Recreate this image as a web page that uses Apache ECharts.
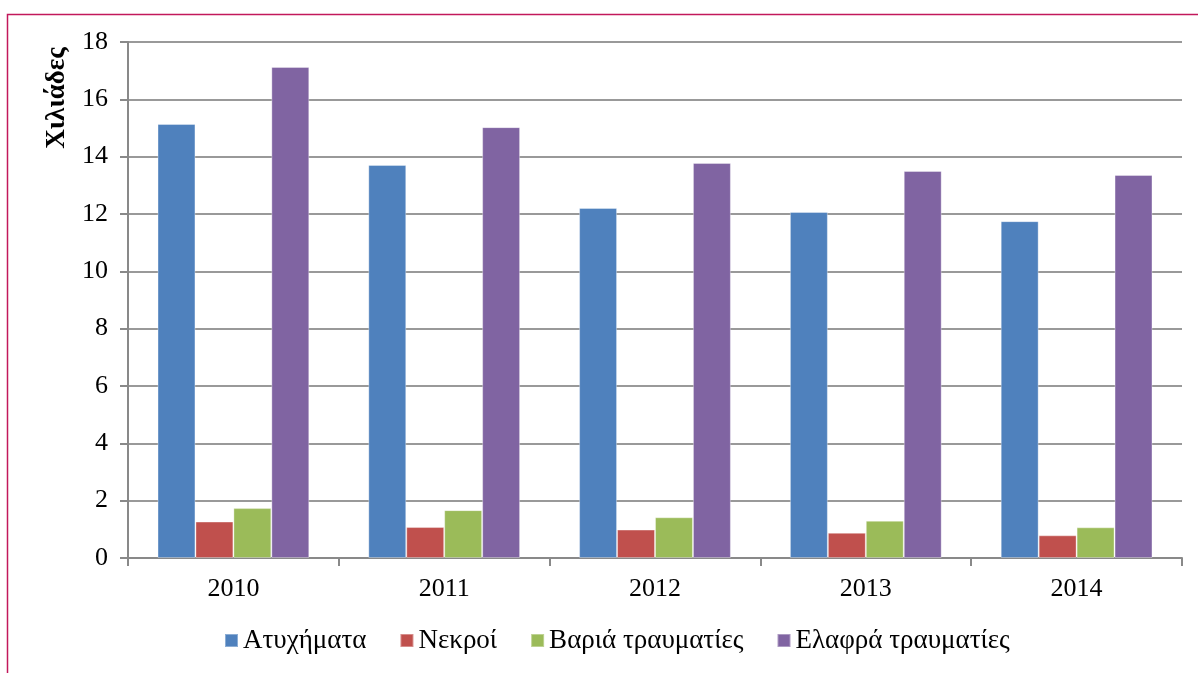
<!DOCTYPE html>
<html><head><meta charset="utf-8">
<script src="https://cdn.jsdelivr.net/npm/echarts@6/dist/echarts.min.js"></script>
<style>html,body{margin:0;padding:0;background:#fff}#c{width:1198px;height:673px}</style>
</head><body><div id="c"></div>
<script>
const categories = ['2010','2011','2012','2013','2014'];
const seriesNames = ['Ατυχήματα','Νεκροί','Βαριά τραυματίες','Ελαφρά τραυματίες'];
const accidents = [15.14, 13.71, 12.21, 12.07, 11.75];
const deaths = [1.27, 1.08, 0.99, 0.88, 0.79];
const serious = [1.74, 1.67, 1.42, 1.30, 1.07];
const light = [17.13, 15.03, 13.78, 13.50, 13.36];
const colors = ['#4F81BD','#C0504D','#9BBB59','#8064A2'];
const font = 'Liberation Serif, Times New Roman, serif';
const data = [accidents, deaths, serious, light];
const chart = echarts.init(document.getElementById('c'));
chart.setOption({
  animation:false,
  textStyle:{fontFamily:font},
  grid:{left:128,right:16,top:42,bottom:115},
  legend:{bottom:14,left:219,itemWidth:13,itemHeight:13,itemGap:33,icon:'rect',
    textStyle:{fontFamily:font,fontSize:27,color:'#000'},data:seriesNames},
  graphic:[
    {type:'rect',shape:{x:7.5,y:14.5,width:1200,height:700},style:{fill:'none',stroke:'#C2185B',lineWidth:1.5},silent:true},
    {type:'text',x:57,y:98,rotation:Math.PI/2,style:{text:'Χιλιάδες',font:'bold 27px '+font,fill:'#000',align:'center',verticalAlign:'middle'}}
  ],
  xAxis:{type:'category',data:categories,
    axisLine:{lineStyle:{color:'#898989',width:2}},
    axisTick:{show:true,length:8,lineStyle:{color:'#898989',width:2},alignWithLabel:false},
    axisLabel:{color:'#000',fontSize:26,fontFamily:font,margin:18}},
  yAxis:{type:'value',min:0,max:18,interval:2,
    axisLine:{show:true,lineStyle:{color:'#898989',width:2}},
    axisTick:{show:true,length:8,lineStyle:{color:'#898989',width:2}},
    splitLine:{lineStyle:{color:'#999',width:2}},
    axisLabel:{color:'#000',fontSize:26,fontFamily:font,margin:20}},
  series:seriesNames.map((n,i)=>({name:n,type:'bar',data:data[i],barGap:'0%',barCategoryGap:'28%',
    itemStyle:{color:colors[i],borderColor:'rgba(255,255,255,0.35)',borderWidth:1}}))
});
</script></body></html>
